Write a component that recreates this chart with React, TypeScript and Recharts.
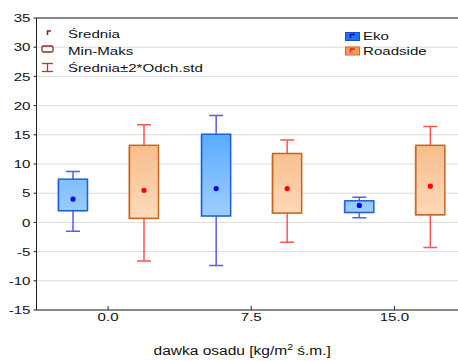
import React from "react";
import { ComposedChart, Bar, XAxis, YAxis, CartesianGrid } from "recharts";

const doses = ["0.0", "7.5", "15.0"];

// Eko
const ekoMean = [4.0, 5.8, 2.9];
const ekoMin = [2.0, 1.1, 1.7];
const ekoMax = [7.4, 15.1, 3.7];
const ekoLower = [-1.5, -7.4, 0.8];
const ekoUpper = [8.7, 18.3, 4.3];

// Roadside
const roadMean = [5.5, 5.8, 6.2];
const roadMin = [0.7, 1.6, 1.3];
const roadMax = [13.2, 11.8, 13.2];
const roadLower = [-6.6, -3.4, -4.3];
const roadUpper = [16.7, 14.1, 16.4];

const yTicks = [-15, -10, -5, 0, 5, 10, 15, 20, 25, 30, 35];

const FONT = "'Liberation Sans', Arial, sans-serif";

const data = doses.map((dose, i) => ({
  dose,
  eko: { mean: ekoMean[i], min: ekoMin[i], max: ekoMax[i], lo: ekoLower[i], hi: ekoUpper[i] },
  road: { mean: roadMean[i], min: roadMin[i], max: roadMax[i], lo: roadLower[i], hi: roadUpper[i] },
}));

const styles = {
  eko: { whisker: "#5a5aff", stroke: "#1f5fd6", top: "#55a9ff", bottom: "#a4d1ff", dot: "#0000ff", shadow: "#6fb2ff" },
  road: { whisker: "#ff5454", stroke: "#c4661f", top: "#f6b680", bottom: "#fedcbf", dot: "#ff0000", shadow: "#d98440" },
};

type Key = "eko" | "road";

const extent = (s: { min: number; max: number; lo: number; hi: number }) =>
  [Math.min(s.lo, s.min), Math.max(s.hi, s.max)];

const renderBox = (p: any, key: Key) => {
  const s = p.payload[key];
  const [lo, hi] = extent(s);
  const k = p.height / (hi - lo);
  const Y = (v: number) => p.y + (hi - v) * k;
  const cx = p.x + p.width / 2;
  const c = styles[key];
  const gid = `grad-${key}-${p.index}`;
  return (
    <g>
      <defs>
        <linearGradient id={gid} gradientUnits="userSpaceOnUse" x1={0} x2={0} y1={Y(16)} y2={Y(0)}>
          <stop offset="0" stopColor={c.top} />
          <stop offset="1" stopColor={c.bottom} />
        </linearGradient>
      </defs>
      <line x1={cx} x2={cx} y1={Y(s.hi)} y2={Y(s.lo)} stroke={c.whisker} strokeWidth={1.5} />
      <line x1={cx - 7} x2={cx + 7} y1={Y(s.hi)} y2={Y(s.hi)} stroke={c.whisker} strokeWidth={1.5} />
      <line x1={cx - 7} x2={cx + 7} y1={Y(s.lo)} y2={Y(s.lo)} stroke={c.whisker} strokeWidth={1.5} />
      <rect x={p.x - 1.5} y={Y(s.max) + 1} width={p.width} height={Y(s.min) - Y(s.max)} fill={c.shadow} opacity={0.45} />
      <rect x={p.x} y={Y(s.max)} width={p.width} height={Y(s.min) - Y(s.max)} fill={`url(#${gid})`} stroke={c.stroke} strokeWidth={1.5} />
      <circle cx={cx} cy={Y(s.mean)} r={2.6} fill={c.dot} />
    </g>
  );
};

const YTick = ({ x, y, payload }: any) => (
  <text x={x} y={y} dy="0.36em" textAnchor="end" fontSize={11.6} fill="#111" fontFamily={FONT}
    transform={`translate(${x},0) scale(1.3,1) translate(${-x},0)`}>
    {payload.value}
  </text>
);

const XTick = ({ x, y, payload }: any) => (
  <text x={x} y={y} dy="0.71em" textAnchor="middle" fontSize={11.6} fill="#111" fontFamily={FONT}
    transform={`translate(${x},0) scale(1.3,1) translate(${-x},0)`}>
    {payload.value}
  </text>
);

const AxisTitle = ({ viewBox }: any) => {
  const cx = viewBox.x + viewBox.width / 2 - 9;
  const by = viewBox.y + viewBox.height - 6;
  return (
    <text x={cx} y={by} textAnchor="middle" fontSize={13.5} fill="#111" fontFamily={FONT}
      transform={`translate(${cx},0) scale(1.15,1) translate(${-cx},0)`}>
      dawka osadu [kg/m<tspan fontSize={9} dy={-5}>2</tspan><tspan dy={5}> ś.m.]</tspan>
    </text>
  );
};

const legendText: React.CSSProperties = {
  position: "absolute",
  fontSize: 11.6,
  lineHeight: "14px",
  color: "#111",
  transform: "scaleX(1.3)",
  transformOrigin: "left center",
  whiteSpace: "nowrap",
};

const Legends = () => (
  <>
    <svg style={{ position: "absolute", left: 0, top: 0 }} width={458} height={80}>
      <path d="M47.5 35 V31 H51" stroke="#a01818" strokeWidth={1.6} fill="none" />
      <rect x={42} y={46} width={11} height={6} rx={1.5} fill="none" stroke="#8b2a2a" strokeWidth={1.3} />
      <line x1={42} x2={53} y1={63.5} y2={63.5} stroke="#c83030" strokeWidth={1.3} />
      <line x1={42} x2={53} y1={71.5} y2={71.5} stroke="#c83030" strokeWidth={1.3} />
      <line x1={47.5} x2={47.5} y1={63.5} y2={71.5} stroke="#c83030" strokeWidth={1.3} />

      <rect x={345.5} y={32.5} width={14} height={8} fill="#1f6fff" stroke="#1a4fcc" strokeWidth={1} />
      <path d="M350.5 38 V34.5 H355" stroke="#0010a0" strokeWidth={1.4} fill="none" />
      <rect x={345.5} y={47} width={14} height={8} fill="#f89a50" stroke="#d06a28" strokeWidth={1} />
      <path d="M350.5 52.5 V49 H355" stroke="#e02020" strokeWidth={1.4} fill="none" />
    </svg>
    <div style={{ ...legendText, left: 68, top: 27 }}>Średnia</div>
    <div style={{ ...legendText, left: 68, top: 44 }}>Min-Maks</div>
    <div style={{ ...legendText, left: 68, top: 61 }}>Średnia±2*Odch.std</div>
    <div style={{ ...legendText, left: 363, top: 29 }}>Eko</div>
    <div style={{ ...legendText, left: 363, top: 44 }}>Roadside</div>
  </>
);

export default function App() {
  return (
    <div style={{ position: "absolute", left: 0, top: 0, width: 458, height: 361, overflow: "hidden", background: "#fff", fontFamily: FONT }}>
      <ComposedChart width={466} height={361} data={data} margin={{ top: 0, right: 0, bottom: 0, left: 0 }} barGap={42}>
        <CartesianGrid xAxisId="bottom" vertical={false} stroke="#dcdcdc" horizontalValues={yTicks} />
        <XAxis xAxisId="top" orientation="top" dataKey="dose" height={18} tick={false} tickSize={-4}
          stroke="#222" />
        <XAxis xAxisId="bottom" dataKey="dose" height={51} tickSize={-4} tickMargin={7} tick={<XTick />}
          stroke="#222" label={<AxisTitle />} />
        <YAxis width={36.5} domain={[-15, 35]} ticks={yTicks} interval={0} tickSize={3} tickMargin={3}
          tick={<YTick />} stroke="#222" allowDataOverflow />
        <Bar xAxisId="bottom" dataKey={(d: any) => extent(d.eko)} barSize={29} isAnimationActive={false}
          shape={(p: any) => renderBox(p, "eko")} />
        <Bar xAxisId="bottom" dataKey={(d: any) => extent(d.road)} barSize={29} isAnimationActive={false}
          shape={(p: any) => renderBox(p, "road")} />
      </ComposedChart>
      <Legends />
    </div>
  );
}
